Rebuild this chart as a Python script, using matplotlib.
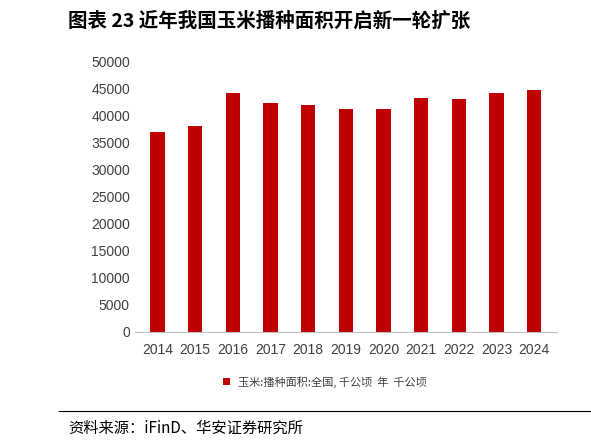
import matplotlib
matplotlib.use("Agg")
import matplotlib.pyplot as plt

plt.rcParams['font.family'] = ['Liberation Sans', 'Noto Sans CJK SC', 'DejaVu Sans']

years = ['2014','2015','2016','2017','2018','2019','2020','2021','2022','2023','2024']
area = [37100, 38100, 44200, 42400, 42100, 41300, 41300, 43300, 43100, 44200, 44700]
series_name = '玉米:播种面积:全国, 千公顷  年  千公顷'

fig = plt.figure(figsize=(5.91, 4.48), dpi=100)
ax = fig.add_axes([0.228, 0.259, 0.714, 0.603])
x = range(len(years))
ax.bar(x, area, width=0.38, color='#C00000', label=series_name)
ax.set_xticks(list(x))
ax.set_xticklabels(years)
ax.set_ylim(0, 50000)
ax.set_yticks(range(0, 50001, 5000))
ax.set_xlim(-0.6, len(years) - 0.4)
for s in ['top', 'right', 'left']:
    ax.spines[s].set_visible(False)
ax.spines['bottom'].set_color('#BFBFBF')
ax.tick_params(axis='both', labelsize=10, colors='#404040', length=0)
ax.tick_params(axis='x', pad=8)

fig.legend(loc='center', bbox_to_anchor=(0.55, 0.147), frameon=False, fontsize=8,
           handlelength=0.6, handleheight=0.6, labelcolor='#404040',
           prop={'family': ['Noto Sans CJK SC', 'DejaVu Sans'], 'size': 8})

fig.text(0.115, 0.953, '图表 23 近年我国玉米播种面积开启新一轮扩张', fontsize=14, fontweight='bold',
         va='center', ha='left', color='black', family=['Noto Sans CJK SC', 'DejaVu Sans'])
fig.add_artist(plt.Line2D([0.1, 1.0], [0.083, 0.083], color='black', lw=0.8))
fig.text(0.115, 0.045, '资料来源：iFinD、华安证券研究所', fontsize=11, va='center', ha='left',
         family=['Noto Sans CJK SC', 'DejaVu Sans'])

fig.savefig('out.png', dpi=100)
